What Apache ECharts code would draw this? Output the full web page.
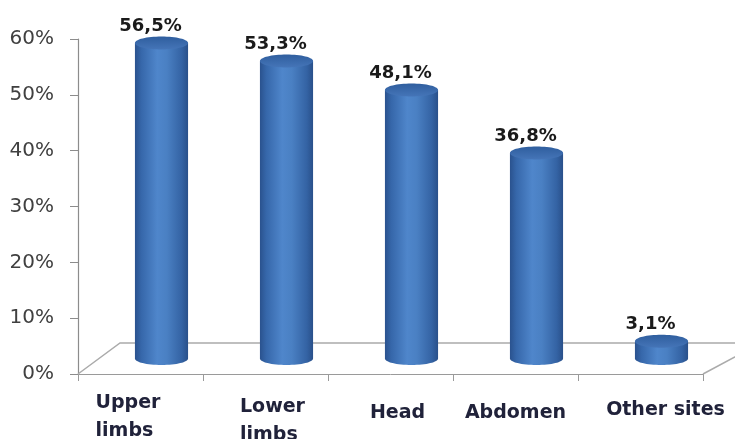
<!DOCTYPE html>
<html><head><meta charset="utf-8">
<script src="https://cdn.jsdelivr.net/npm/echarts@6/dist/echarts.min.js"></script>
<style>html,body{margin:0;padding:0;background:#fff}#c{width:735px;height:439px}</style>
</head><body><div id="c"></div>
<script>
// ---- data ----
const categories = ['Upper\nlimbs', 'Lower\nlimbs', 'Head', 'Abdomen', 'Other sites'];
const values = [56.5, 53.3, 48.1, 36.8, 3.1];
const yMin = 0, yMax = 60, yStep = 10;

// ---- styling helpers ----
const FONT = '"DejaVu Sans", Verdana, sans-serif';
const labelPads = [[0, 25, 0, 0], [4, 0, 0, 14], [10, 0, 0, 14], [10, 0, 0, 0], [7, 0, 0, 50]];
const fmt = v => v.toFixed(1).replace('.', ',') + '%';

const chart = echarts.init(document.getElementById('c'), null, { renderer: 'canvas' });

const sideGrad = () => new echarts.graphic.LinearGradient(0, 0, 1, 0, [
  { offset: 0, color: '#2a528e' },
  { offset: 0.12, color: '#3667aa' },
  { offset: 0.42, color: '#4f86cb' },
  { offset: 0.6, color: '#4a80c3' },
  { offset: 0.88, color: '#3463a4' },
  { offset: 1, color: '#29508a' }
]);
const topGrad = () => new echarts.graphic.LinearGradient(0, 0, 0, 1, [
  { offset: 0, color: '#2f5e9e' },
  { offset: 1, color: '#4575b8' }
]);

chart.setOption({
  animation: false,
  backgroundColor: '#ffffff',
  grid: [
    { left: 78, right: 32, top: 39, bottom: 65, containLabel: false, outerBoundsMode: 'none' },
    { left: 99, right: 11, top: 23.5, bottom: 80.5, containLabel: false, outerBoundsMode: 'none' }
  ],
  xAxis: [
    {
      type: 'category', gridIndex: 0,
      data: categories.map((c, i) => ({ value: c, textStyle: { padding: labelPads[i] } })),
      axisLine: { lineStyle: { color: '#9a9a9a', width: 1 } },
      axisTick: { show: true, length: 7, lineStyle: { color: '#9a9a9a' } },
      axisLabel: {
        margin: 15, interval: 0, hideOverlap: false,
        formatter: v => v.split('\n').map(s => '{a|' + s + '}').join('\n'),
        rich: { a: { fontFamily: FONT, fontWeight: 'bold', fontSize: 19, color: '#20223a', lineHeight: 28, align: 'left' } },
        fontFamily: FONT, fontWeight: 'bold', fontSize: 19, color: '#20223a', lineHeight: 28
      },
      splitLine: { show: false }
    },
    {
      type: 'category', gridIndex: 1, data: categories,
      axisLine: { show: false }, axisTick: { show: false }, axisLabel: { show: false }
    }
  ],
  yAxis: [
    {
      type: 'value', gridIndex: 0, min: yMin, max: yMax, interval: yStep,
      axisLine: { show: true, lineStyle: { color: '#8c8c8c', width: 1.2 } },
      axisTick: { show: true, length: 8, lineStyle: { color: '#8c8c8c' } },
      axisLabel: { formatter: '{value}%', margin: 24, fontFamily: FONT, fontSize: 20, color: '#404040' },
      splitLine: { show: false }
    },
    {
      type: 'value', gridIndex: 1, min: yMin, max: yMax, interval: yStep,
      axisLine: { show: false }, axisTick: { show: false }, axisLabel: { show: false }, splitLine: { show: false }
    }
  ],
  series: [
    {
      // 3D floor (decoration)
      type: 'custom', xAxisIndex: 0, yAxisIndex: 0, silent: true, z: 1,
      data: [[0, 0]],
      renderItem(params, api) {
        const p = api.coord([0, 0]);
        const bw = api.size([1, 0])[0];
        const fl = p[0] - bw / 2, fr = fl + bw * categories.length, y = p[1];
        return {
          type: 'polyline',
          shape: { points: [[fl, y], [fl + 42, y - 31], [fr + 58, y - 31], [fr, y]] },
          style: { stroke: '#ababab', lineWidth: 1.5, fill: null }
        };
      }
    },
    {
      type: 'custom', xAxisIndex: 1, yAxisIndex: 1, z: 3,
      data: values.map((v, i) => [i, v]),
      renderItem(params, api) {
        const i = api.value(0), v = api.value(1);
        const top = api.coord([i, v]), base = api.coord([i, 0]);
        const w = api.size([1, 0])[0] * 0.425, rx = w / 2, ry = 6.5;
        const cx = top[0];
        return {
          type: 'group',
          children: [
            { type: 'ellipse', shape: { cx: cx, cy: base[1], rx: rx, ry: ry }, style: { fill: sideGrad() } },
            { type: 'rect', shape: { x: cx - rx, y: top[1], width: w, height: base[1] - top[1] }, style: { fill: sideGrad() } },
            { type: 'ellipse', shape: { cx: cx, cy: top[1], rx: rx, ry: ry }, style: { fill: topGrad() } },
            {
              type: 'text', x: cx - 11, y: top[1] - ry - 1,
              style: { text: fmt(v), align: 'center', verticalAlign: 'bottom', font: 'bold 18px ' + FONT, fill: '#1a1a1a' }
            }
          ]
        };
      }
    }
  ]
});
</script></body></html>
